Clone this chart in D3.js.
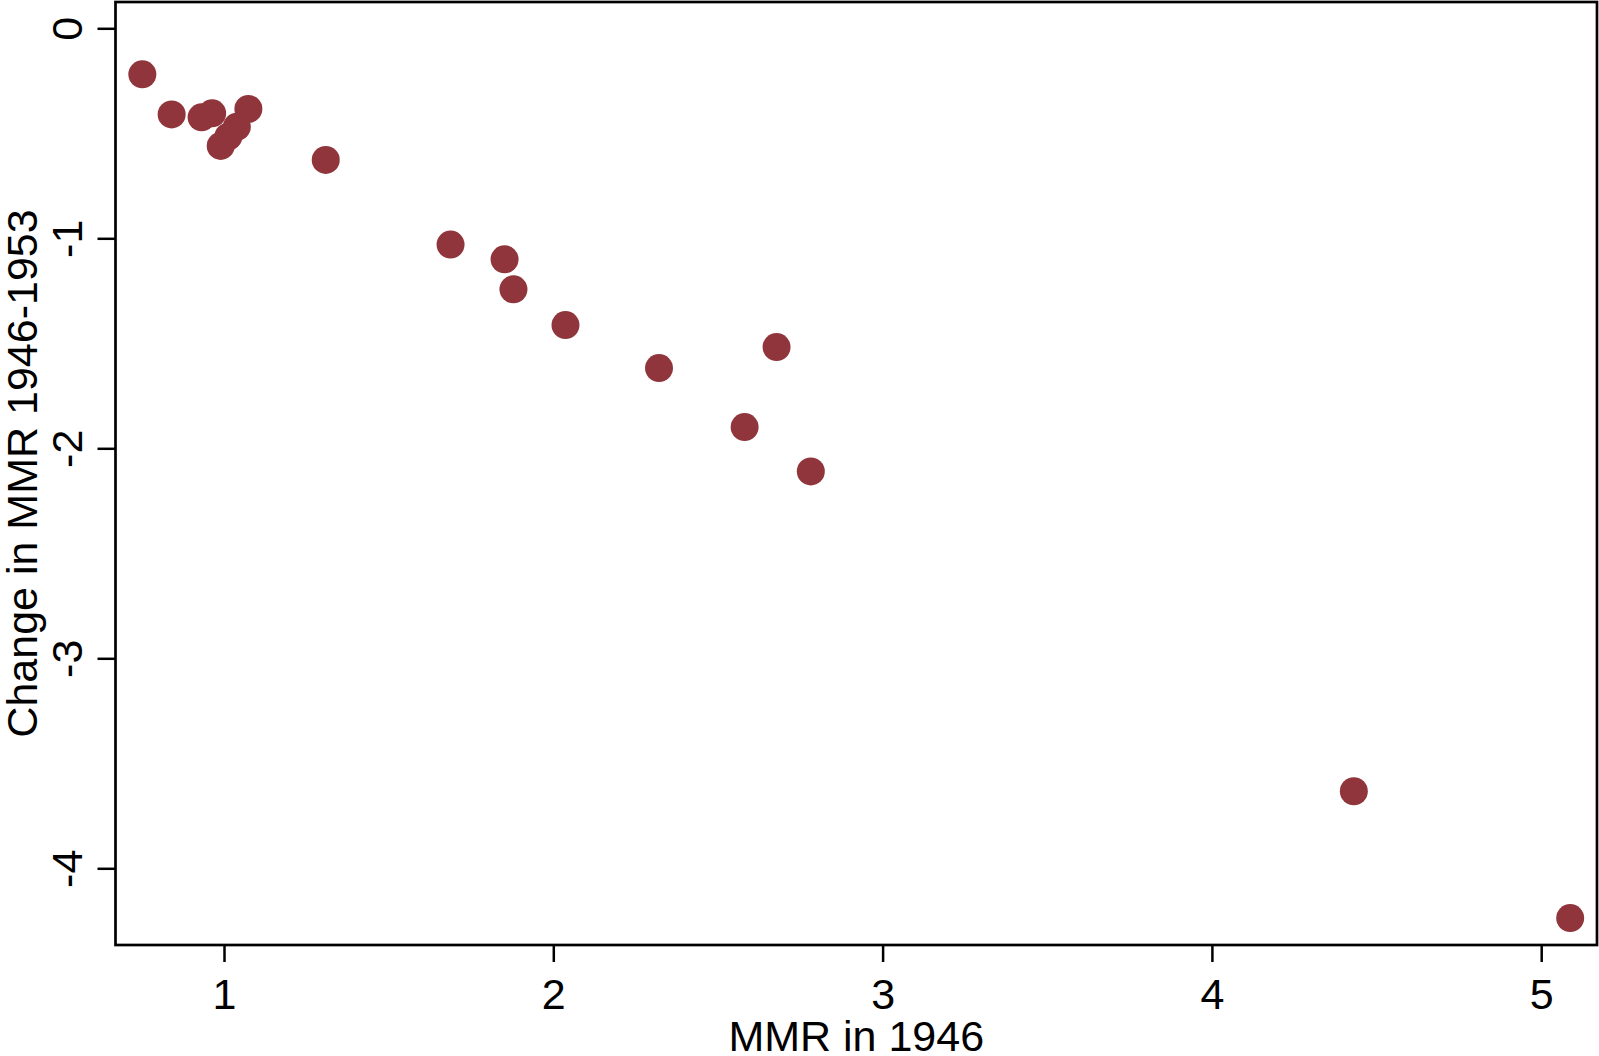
<!DOCTYPE html>
<html>
<head>
<meta charset="utf-8">
<script src="https://cdn.jsdelivr.net/npm/d3@7"></script>
<style>
  html, body { margin: 0; padding: 0; background: #fff; }
  svg { display: block; }
  text { font-family: "Liberation Sans", Arial, sans-serif; fill: #000; }
</style>
</head>
<body>
<svg id="chart" width="1599" height="1056"></svg>
<script>
// Data
const mmr1946 = [0.752, 0.841, 0.932, 0.964, 1.074, 1.039, 1.013, 0.990, 1.309,
                 1.688, 1.852, 1.879, 2.037, 2.321, 2.678, 2.581, 2.782, 4.431, 5.088];
const changeMMR = [-0.219, -0.410, -0.424, -0.405, -0.384, -0.469, -0.516, -0.560, -0.627,
                   -1.030, -1.100, -1.243, -1.413, -1.618, -1.518, -1.899, -2.110, -3.633, -4.237];
const xTicks = [1, 2, 3, 4, 5];
const yTicks = [0, -1, -2, -3, -4];
const xTitle = "MMR in 1946";
const yTitle = "Change in MMR 1946-1953";

const points = mmr1946.map((v, i) => ({ x: v, y: changeMMR[i] }));

const svg = d3.select("#chart");
const L = 115.5, R = 1597, T = 2, B = 945;
const fontSize = 43;
const color = "#90353B";

const x = d3.scaleLinear().domain([1, 5]).range([224, 1541.2]);
const y = d3.scaleLinear().domain([0, -4]).range([28.3, 868.3]);

// points
svg.append("g").selectAll("circle")
  .data(points).enter().append("circle")
  .attr("cx", d => x(d.x))
  .attr("cy", d => y(d.y))
  .attr("r", 14)
  .attr("fill", color);

// x axis
const gx = svg.append("g")
  .attr("transform", `translate(0,${B})`)
  .call(d3.axisBottom(x).tickValues(xTicks).tickFormat(d3.format("d")).tickSize(17).tickSizeOuter(0));
gx.select(".domain").remove();
gx.selectAll(".tick line").attr("stroke", "#000").attr("stroke-width", 2.5);
gx.selectAll(".tick text")
  .attr("y", 64).attr("dy", null)
  .style("font-size", fontSize + "px")
  .style("font-family", '"Liberation Sans", Arial, sans-serif');

// y axis
const gy = svg.append("g")
  .attr("transform", `translate(${L},0)`)
  .call(d3.axisLeft(y).tickValues(yTicks).tickFormat(d3.format("d")).tickSize(18).tickSizeOuter(0));
gy.select(".domain").remove();
gy.selectAll(".tick line").attr("stroke", "#000").attr("stroke-width", 2.5);
gy.selectAll(".tick text")
  .attr("x", null).attr("dy", null)
  .attr("text-anchor", "middle")
  .attr("transform", "translate(-33.5,0) rotate(-90)")
  .style("font-size", fontSize + "px")
  .style("font-family", '"Liberation Sans", Arial, sans-serif')
  .text(d => d === 0 ? "0" : String(d).replace("−", "-"));

// frame
svg.append("rect")
  .attr("x", L).attr("y", T)
  .attr("width", R - L).attr("height", B - T)
  .attr("fill", "none").attr("stroke", "#000").attr("stroke-width", 2.7);

// titles
svg.append("text")
  .attr("x", (L + R) / 2).attr("y", 1051)
  .attr("text-anchor", "middle")
  .style("font-size", fontSize + "px")
  .text(xTitle);

svg.append("text")
  .attr("transform", `translate(37,${(T + B) / 2}) rotate(-90)`)
  .attr("text-anchor", "middle")
  .style("font-size", fontSize + "px")
  .text(yTitle);
</script>
</body>
</html>
